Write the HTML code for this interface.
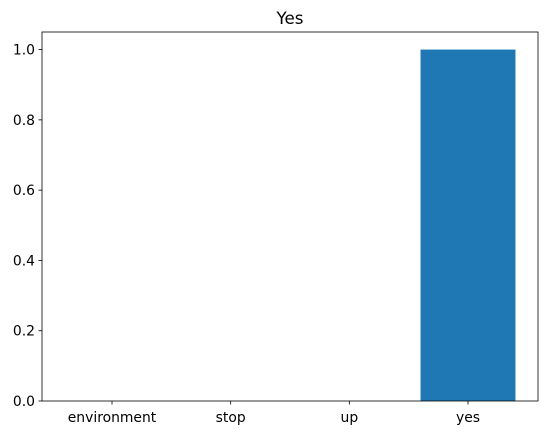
<!DOCTYPE html>
<html><head><meta charset="utf-8"><style>
html,body{margin:0;padding:0;background:#fff;width:547px;height:435px;overflow:hidden;}
svg{display:block;}
svg text{font-family:"DejaVu Sans","Liberation Sans",sans-serif;}
</style></head><body>
<svg id="chart" width="547" height="435" viewBox="0 0 547 435" xmlns="http://www.w3.org/2000/svg"></svg>
<script>
const categories = ["environment","stop","up","yes"];
const values = [0, 0, 0, 1.0];
const yTicks = [0.0, 0.2, 0.4, 0.6, 0.8, 1.0];
const title = "Yes";

const L=42, R=538, T=32, B=401;
const xMin=-0.59, xMax=3.59, yMin=0, yMax=1.05;
const xs=v=>L+(v-xMin)/(xMax-xMin)*(R-L);
const ys=v=>B-(v-yMin)/(yMax-yMin)*(B-T);
const svg=document.getElementById('chart');
const NS="http://www.w3.org/2000/svg";
function mk(tag,attrs,parent){const e=document.createElementNS(NS,tag);for(const k in attrs)e.setAttribute(k,attrs[k]);(parent||svg).appendChild(e);return e;}

categories.forEach((c,i)=>{
  const r=mk('rect',{x:xs(i-0.4),y:ys(values[i]),width:xs(i+0.4)-xs(i-0.4),height:ys(0)-ys(values[i]),fill:'#1f77b4'});
  
  
  const t=mk('line',{x1:xs(i),x2:xs(i),y1:B,y2:B+3.5,stroke:'#000','stroke-width':0.8});
  
  
  const lb=mk('text',{x:xs(i),y:B+21,'text-anchor':'middle','font-size':13.9});
  lb.textContent=c;
  
  
});
yTicks.forEach(v=>{
  const t=mk('line',{x1:L-3.5,x2:L,y1:ys(v),y2:ys(v),stroke:'#000','stroke-width':0.8});
  
  
  const lb=mk('text',{x:L-7,y:ys(v)+5,'text-anchor':'end','font-size':13.9});
  lb.textContent=v.toFixed(1);
  
  
});
const frame=mk('rect',{x:L,y:T,width:R-L,height:B-T,fill:'none',stroke:'#000','stroke-width':0.8});


const tt=mk('text',{x:(L+R)/2,y:T-8,'text-anchor':'middle','font-size':16.7});
tt.textContent=title;


</script>
</body></html>
